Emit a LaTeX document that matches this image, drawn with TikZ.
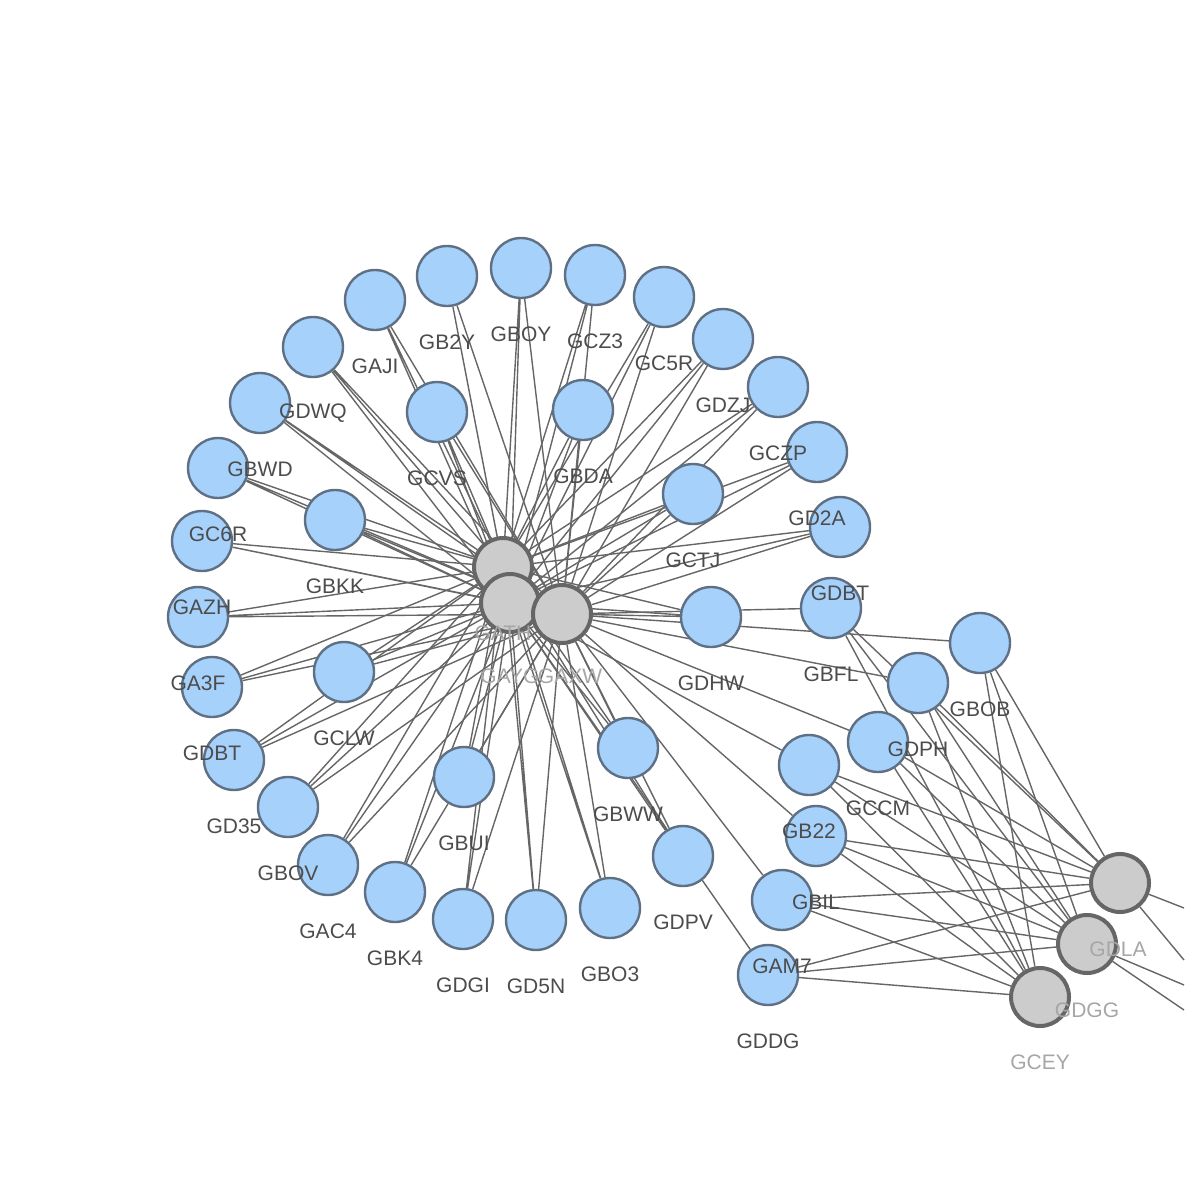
\documentclass[tikz,border=0pt]{standalone}
\usepackage{fontspec}
\setmainfont{Liberation Sans}
\definecolor{genefill}{HTML}{A6D1FB}
\definecolor{geneline}{HTML}{5F7084}
\pgfdeclarelayer{background}
\pgfdeclarelayer{foreground}
\pgfsetlayers{background,main,foreground}

\begin{document}
\begin{tikzpicture}[
    x=0.5pt, y=-0.5pt,
    gene/.style={circle, draw=geneline, line width=1.2pt, fill=genefill, minimum size=30pt, inner sep=0pt},
    hub/.style={circle, draw=black!60, line width=2pt, fill=black!20, minimum size=29pt, inner sep=0pt},
    tag/.style={font=\fontsize{10.5}{12}\selectfont, text=black!70},
    hubtag/.style={font=\fontsize{10.5}{12}\selectfont, text=black!35},
    link/.style={draw=black!60, line width=0.7pt}
]
\useasboundingbox (0,0) rectangle (1184,1194);

% Hubs
\node[hub] (gath) at (503,567) {};
\node[hub] (gayg) at (510,603) {};
\node[hub] (gaxw) at (562,614) {};
\node[hub] (gdla) at (1120,883) {};
\node[hub] (gdgg) at (1087,944) {};
\node[hub] (gcey) at (1040,997) {};
\begin{pgfonlayer}{foreground}
  \node[hubtag] at (503,633) {GATH};
  \node[hubtag] at (510,676) {GAYG};
  \node[hubtag] at (570,676) {GAXW};
  \node[hubtag] at (1118,949) {GDLA};
  \node[hubtag] at (1087,1010) {GDGG};
  \node[hubtag] at (1040,1062) {GCEY};
\end{pgfonlayer}

% Genes around the central hubs
\foreach \name/\x/\y/\lbl in {
    gaji/375/300/GAJI, gbtwoy/447/276/GB2Y, gboy/521/268/GBOY, gczthree/595/275/GCZ3,
    gcfiver/664/297/GC5R, gdzj/723/339/GDZJ, gczp/778/387/GCZP, gdtwoa/817/452/GD2A,
    gdbta/840/527/GDBT, gdwq/313/347/GDWQ, gbwd/260/403/GBWD, gcsixr/218/468/GC6R,
    gazh/202/541/GAZH, gathreef/198/617/GA3F, gdbtb/212/687/GDBT, gdthreefive/234/760/GD35,
    gbov/288/807/GBOV, gacfour/328/865/GAC4, gbkfour/395/892/GBK4, gdgi/463/919/GDGI,
    gdfiven/536/920/GD5N, gbothree/610/908/GBO3, gdpv/683/856/GDPV,
    gcvs/437/412/GCVS, gbda/583/410/GBDA, gctj/693/494/GCTJ, gbkk/335/520/GBKK,
    gdhw/711/617/GDHW, gclw/344/672/GCLW, gbui/464/777/GBUI, gbww/628/748/GBWW}{
  \node[gene] (\name) at (\x,\y) {};
  \begin{pgfonlayer}{foreground}
    \node[tag] at (\x,\y+66) {\lbl};
  \end{pgfonlayer}
  \begin{pgfonlayer}{background}
    \draw[link] (\name) -- (gath) (\name) -- (gayg) (\name) -- (gaxw);
  \end{pgfonlayer}
}

% Genes shared with the right hubs
\foreach \name/\x/\y/\lbl/\mid in {
    gbfl/831/608/GBFL/gaxw, gbob/980/643/GBOB/gaxw, gdph/918/683/GDPH/gaxw,
    gccm/878/742/GCCM/gaxw, gbtwotwo/809/765/GB22/gayg, gbil/816/836/GBIL/gaxw,
    gamseven/782/900/GAM7/gaxw, gdddg/768/975/GDDG/gayg}{
  \node[gene] (\name) at (\x,\y) {};
  \begin{pgfonlayer}{foreground}
    \node[tag] at (\x,\y+66) {\lbl};
  \end{pgfonlayer}
  \begin{pgfonlayer}{background}
    \draw[link] (\name) -- (\mid);
    \draw[link] (\name) -- (gdla) (\name) -- (gdgg) (\name) -- (gcey);
  \end{pgfonlayer}
}

% Edges leaving the frame
\coordinate (outa) at (1184,908);
\coordinate (outb) at (1184,960);
\coordinate (outc) at (1184,985);
\coordinate (outd) at (1184,1010);
\begin{pgfonlayer}{background}
  \draw[link] (gdla) -- (outa) (gdla) -- (outb) (gdgg) -- (outc) (gdgg) -- (outd);
\end{pgfonlayer}

\end{tikzpicture}
\end{document}
